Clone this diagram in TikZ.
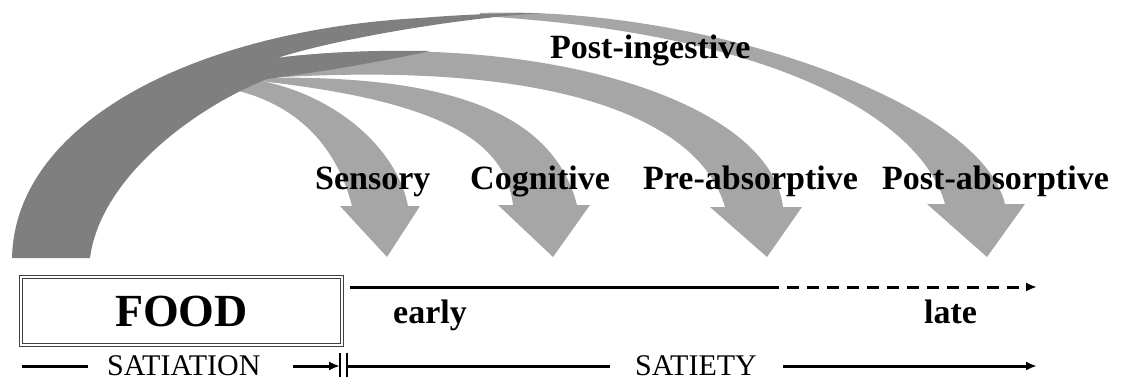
\documentclass[tikz,border=0pt]{standalone}
\usepackage{fontspec}
\setmainfont{Liberation Serif}
\usetikzlibrary{arrows.meta}
\definecolor{ArrowLight}{HTML}{A6A6A6}
\definecolor{ArrowDark}{HTML}{7F7F7F}
\definecolor{BoxLine}{HTML}{404040}
\tikzset{
    lightarrow/.style={fill=ArrowLight},
    darkband/.style={fill=ArrowDark},
    stagelabel/.style={font=\bfseries\fontsize{34}{40}\selectfont, inner sep=0pt, anchor=base west},
    phaselabel/.style={font=\fontsize{30}{36}\selectfont, inner sep=0pt, anchor=base west},
    foodbox/.style={draw=BoxLine, line width=1.2pt, double=white, double distance=2pt, minimum width=321pt, minimum height=68pt, inner sep=0pt, font=\bfseries\fontsize{46}{52}\selectfont},
    timeline/.style={line width=3pt},
    tip/.style={-{Latex[length=11pt,width=9pt]}},
}
\begin{document}
\begin{tikzpicture}[x=1pt, y=-1pt]
    \useasboundingbox (0,0) rectangle (1122,380);

    % Sensory arrow
    \fill[lightarrow] (240,78) .. controls (320,85) and (395,140) .. (408,206) -- (420,206) -- (387,257) -- (340,206) -- (352,206)
        .. controls (335,140) and (290,100) .. (225,88) -- cycle;
    % Cognitive arrow
    \fill[lightarrow] (250,78) .. controls (420,74) and (550,100) .. (577,205) -- (590,205) -- (553,257) -- (498,205) -- (513,205)
        .. controls (505,140) and (440,100) .. (250,80) -- cycle;
    % Pre-absorptive arrow
    \fill[lightarrow] (285,57) .. controls (540,30) and (770,100) .. (783,207) -- (802,207) -- (767,257) -- (710,207) -- (725,207)
        .. controls (700,120) and (560,62) .. (285,77) -- cycle;
    % Post-absorptive arrow
    \fill[lightarrow] (480,13) .. controls (700,5) and (980,100) .. (1005,204) -- (1025,204) -- (987,257) -- (927,204) -- (945,204)
        .. controls (925,130) and (800,35) .. (480,16) -- cycle;

    % Post-ingestive (dark back part)
    \fill[darkband] (12,258) .. controls (15,120) and (200,30) .. (420,18) .. controls (470,14) and (510,13) .. (545,13)
        .. controls (480,16) and (350,35) .. (277,58)
        .. controls (320,52) and (380,50) .. (430,51)
        .. controls (380,62) and (320,72) .. (267,79)
        .. controls (190,110) and (100,180) .. (90,258) -- cycle;

    % Labels
    \node[stagelabel] (postingest) at (550,58) {Post-ingestive};
    \node[stagelabel] (sensory) at (315,189) {Sensory};
    \node[stagelabel] (cognitive) at (470,189) {Cognitive};
    \node[stagelabel] (preabs) at (643,189) {Pre-absorptive};
    \node[stagelabel] (postabs) at (882,189) {Post-absorptive};

    % Food box and time axis
    \node[foodbox] (food) at (181.5,311) {FOOD};
    \coordinate (tstart) at (350,287);
    \coordinate (tmid) at (767,287);
    \coordinate (tend) at (1037,287);
    \draw[timeline] (tstart) -- (tmid);
    \draw[timeline, tip, dash pattern=on 12pt off 8pt] (tmid) -- (tend);
    \node[stagelabel] (early) at (393,323) {early};
    \node[stagelabel] (late) at (924,323) {late};

    % Satiation / satiety
    \coordinate (satA) at (22,366);
    \coordinate (satB) at (88,366);
    \coordinate (satC) at (293,366);
    \coordinate (barL) at (340,366);
    \coordinate (barR) at (347,366);
    \coordinate (styA) at (610,366);
    \coordinate (styB) at (783,366);
    \coordinate (styC) at (1037,366);
    \node[phaselabel] (satiation) at (107,375) {SATIATION};
    \node[phaselabel] (satiety) at (635,375) {SATIETY};
    \draw[timeline] (satA) -- (satB);
    \draw[timeline, tip] (satC) -- (barL);
    \draw[line width=2pt] ([yshift=-11pt]barL) -- ([yshift=13pt]barL);
    \draw[line width=2pt] ([yshift=-11pt]barR) -- ([yshift=13pt]barR);
    \draw[timeline] (barR) -- (styA);
    \draw[timeline, tip] (styB) -- (styC);
\end{tikzpicture}
\end{document}
